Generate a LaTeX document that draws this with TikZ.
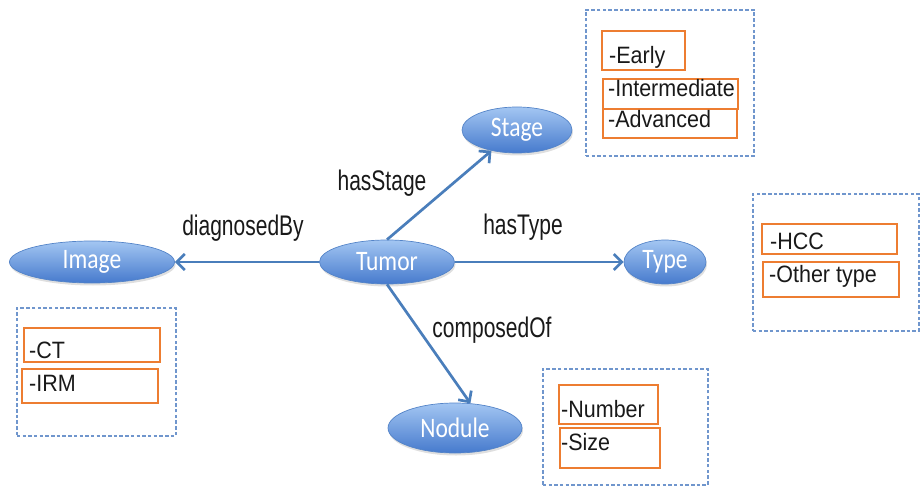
\documentclass[tikz,border=0pt]{standalone}
\usepackage{graphicx}
\usepackage{fontspec}
\setmainfont{Liberation Sans}
\newfontfamily\calib{Carlito}
\usetikzlibrary{arrows.meta,shapes.geometric,shadows}
\definecolor{arrowblue}{RGB}{74,126,187}
\definecolor{elltop}{RGB}{163,198,242}
\definecolor{ellbot}{RGB}{70,122,205}
\definecolor{ellborder}{RGB}{84,132,200}
\definecolor{orangeb}{RGB}{237,125,49}
\definecolor{dashblue}{RGB}{112,150,205}
\definecolor{txt}{RGB}{25,25,25}
\newcommand{\tallc}[1]{\scalebox{1}[1.2]{#1}}
\newcommand{\talll}[1]{\scalebox{1}[1.35]{#1}}
\newcommand{\talli}[1]{\scalebox{1}[1.1]{#1}}
\begin{document}
\begin{tikzpicture}[x=1pt,y=-1pt,
  concept/.style={ellipse, draw=ellborder, line width=0.7pt, top color=elltop, bottom color=ellbot,
    drop shadow={opacity=0.25, shadow xshift=1pt, shadow yshift=-2.5pt},
    font=\calib\fontsize{23.5}{26}\selectfont, text=white, inner sep=0pt},
  rel/.style={draw=arrowblue, line width=2.7pt, -{Straight Barb[length=8pt,width=16pt]}},
  lbl/.style={font=\fontsize{21}{24}\selectfont, text=txt, inner sep=0pt},
  item/.style={font=\fontsize{21.5}{24}\selectfont, text=txt, inner sep=0pt, anchor=base west},
  obox/.style={draw=orangeb, line width=1.8pt, anchor=north west, inner sep=0pt},
  dbox/.style={draw=dashblue, line width=1.6pt, dash pattern=on 3.5pt off 2.2pt, anchor=north west, inner sep=0pt}]
\useasboundingbox (0,0) rectangle (920,486);

% concepts
\node[concept, minimum width=165pt, minimum height=42pt] (image) at (92,262) {\tallc{Image}};
\node[concept, minimum width=135pt, minimum height=44pt] (tumor) at (387,262) {\tallc{Tumor}};
\node[concept, minimum width=110pt, minimum height=46pt] (stage) at (517,130) {\tallc{Stage}};
\node[concept, minimum width=82pt, minimum height=44pt] (type) at (665,262) {\tallc{Type}};
\node[concept, minimum width=134pt, minimum height=50pt] (nodule) at (455,428) {\tallc{Nodule}};

% relations
\draw[rel] (tumor.west) -- (image.east);
\draw[rel] (tumor.east) -- (type.west);
\draw[rel] (tumor.north) -- (stage.219);
\draw[rel] (tumor.south) -- (nodule.58);

\node[lbl] (ldiag) at (243,228) {\talll{diagnosedBy}};
\node[lbl] (lstage) at (382,183) {\talll{hasStage}};
\node[lbl] (ltype) at (523,227) {\talll{hasType}};
\node[lbl] (lcomp) at (492,330) {\talll{composedOf}};

% dashed groups
\node[dbox, minimum width=168pt, minimum height=146pt] (gstage) at (585,9) {};
\node[dbox, minimum width=159pt, minimum height=128pt] (gimage) at (16,307) {};
\node[dbox, minimum width=166pt, minimum height=137pt] (gtype) at (752,193) {};
\node[dbox, minimum width=165pt, minimum height=116pt] (gnodule) at (542,368) {};

% orange boxes
\node[obox, minimum width=83pt, minimum height=39pt] (bearly) at (601,30) {};
\node[obox, minimum width=135pt, minimum height=30pt] (binter) at (602,78) {};
\node[obox, minimum width=134pt, minimum height=29pt] (badv) at (602,108) {};
\node[obox, minimum width=136pt, minimum height=34pt] (bct) at (23,327) {};
\node[obox, minimum width=136pt, minimum height=34pt] (birm) at (21,368) {};
\node[obox, minimum width=135pt, minimum height=30pt] (bhcc) at (761,223) {};
\node[obox, minimum width=136pt, minimum height=35pt] (bother) at (762,261) {};
\node[obox, minimum width=99pt, minimum height=39pt] (bnum) at (558,384) {};
\node[obox, minimum width=100pt, minimum height=40pt] (bsize) at (559,427) {};

% texts
\node[item] (tearly) at (609,64) {\talli{-Early}};
\node[item] (tinter) at (608,97) {\talli{-Intermediate}};
\node[item] (tadv) at (608,128) {\talli{-Advanced}};
\node[item] (tct) at (29,358) {\talli{-CT}};
\node[item] (tirm) at (29,391) {\talli{-IRM}};
\node[item] (thcc) at (770,250) {\talli{-HCC}};
\node[item] (tother) at (769,282) {\talli{-Other type}};
\node[item] (tnum) at (561,417) {\talli{-Number}};
\node[item] (tsize) at (561,450) {\talli{-Size}};
\end{tikzpicture}
\end{document}
